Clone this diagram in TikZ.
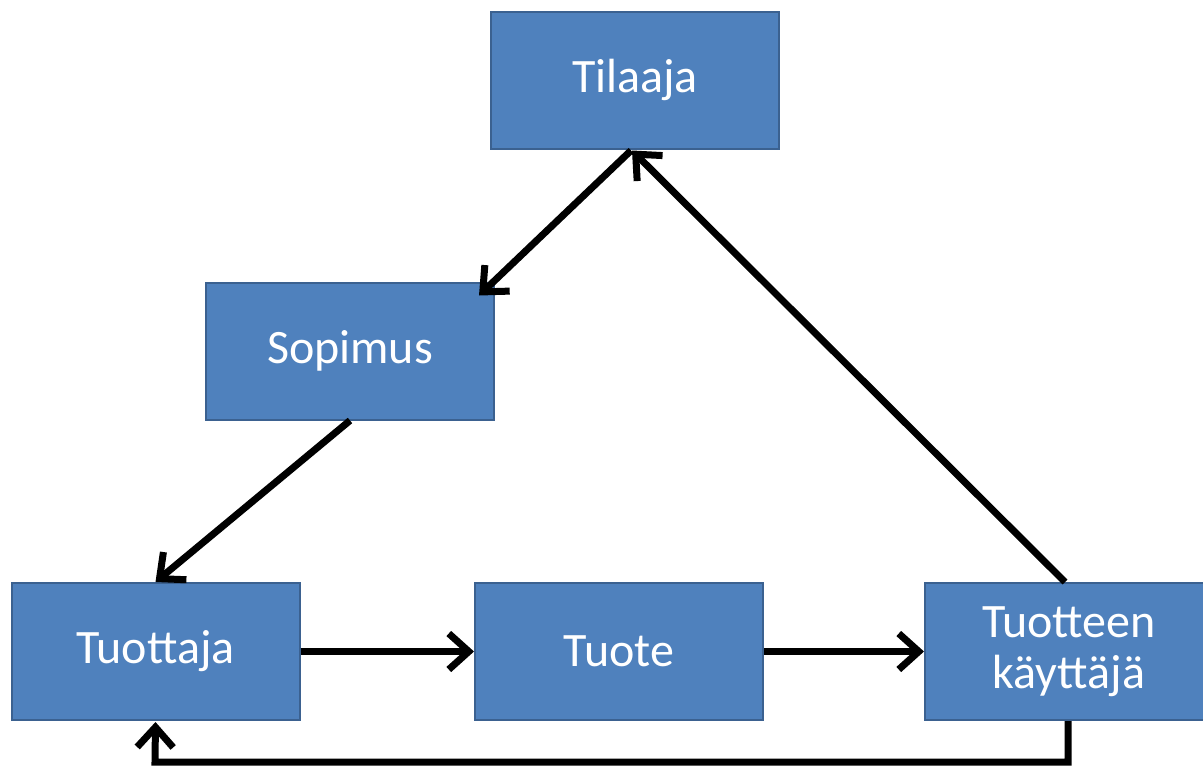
\documentclass[tikz,border=0pt]{standalone}
\usepackage{fontspec}
\setmainfont{Carlito}
\usetikzlibrary{arrows.meta}
\definecolor{boxfill}{HTML}{4F81BD}
\definecolor{boxline}{HTML}{3B6190}
\tikzset{
  box/.style={draw=boxline, line width=2pt, fill=boxfill, text=white, minimum width=288pt, minimum height=137pt, inner sep=0pt, align=center, font=\fontsize{48}{51}\selectfont},
  conn/.style={line width=7pt, black, -{Straight Barb[length=20pt,width=36pt,line width=7pt]}}
}
\begin{document}
\begin{tikzpicture}[x=1pt,y=-1pt]
\useasboundingbox (0,0) rectangle (1203,769);
\clip (0,0) rectangle (1203,769);
\node[box] (tilaaja) at (635,80) {Tilaaja};
\node[box] (sopimus) at (350,351) {Sopimus};
\node[box] (tuottaja) at (155.5,651.5) {Tuottaja};
\node[box] (tuote) at (619,651.5) {Tuote};
\node[box] (kayttaja) at (1069,651.5) {Tuotteen\\käyttäjä};
\coordinate (c1) at (1068,762);
\coordinate (c2) at (155,762);
\draw[conn] ([xshift=-4pt,yshift=-1pt]tilaaja.south) -- ([xshift=-16pt,yshift=-14pt]sopimus.north east);
\draw[conn] (sopimus.south) -- (tuottaja.north);
\draw[conn] (tuottaja.east) -- (tuote.west);
\draw[conn] (tuote.east) -- (kayttaja.west);
\draw[conn] ([xshift=-4pt]kayttaja.north) -- ([xshift=-3pt,yshift=-1pt]tilaaja.south);
\draw[conn] ([xshift=-1pt]kayttaja.south) -- (c1) -- (c2) -- ([yshift=-1pt]tuottaja.south);
\end{tikzpicture}
\end{document}
